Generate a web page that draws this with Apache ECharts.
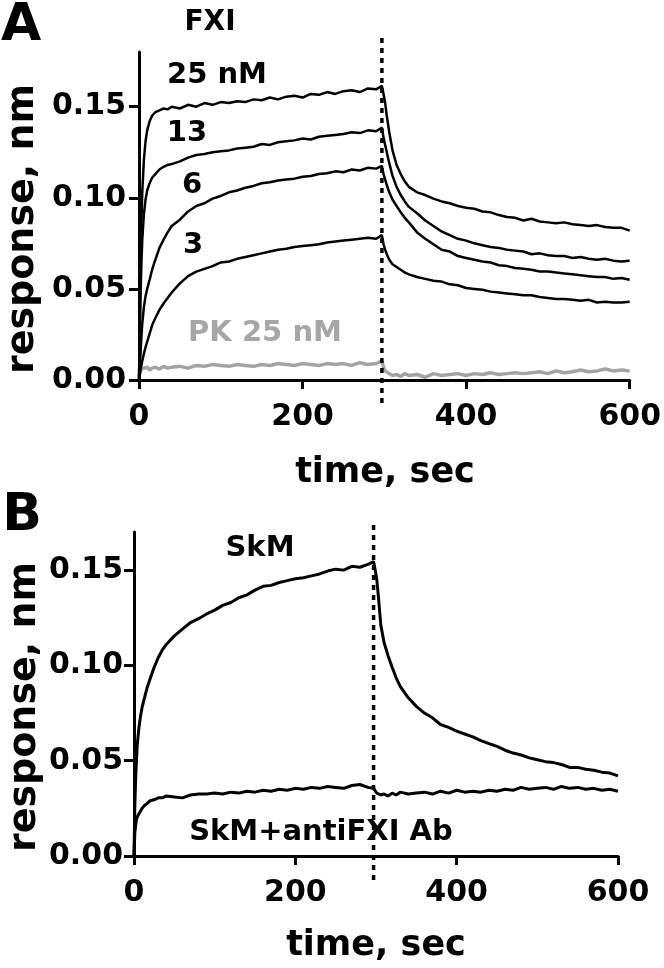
<!DOCTYPE html>
<html><head><meta charset="utf-8">
<script src="https://cdn.jsdelivr.net/npm/echarts@6/dist/echarts.min.js"></script>
<style>html,body{margin:0;padding:0;background:#fff}#c{width:664px;height:968px}</style>
</head><body><div id="c"></div>
<script>
// time points (sec), shared by both panels
const timeSec = [0,1,2,3,4,6,8,10,13,16,20,25,30,35,40,
 50,60,70,80,90,100,110,120,130,140,150,160,170,180,190,200,210,220,230,240,250,260,270,280,290,
 297,
 299,301,303,306,310,315,320,325,330,
 340,350,360,370,380,390,400,410,420,430,440,450,460,470,480,490,500,510,520,530,540,550,560,570,580,590,600];

// Panel A: FXI binding
const fxi25 = [0,0.035,0.065,0.088,0.103,0.121,0.131,0.137,0.142,0.145,0.147,0.148,0.149,0.1485,0.150,
 0.149,0.151,0.150,0.152,0.151,0.1525,0.152,0.153,0.1525,0.154,0.1535,0.155,0.154,0.1555,0.156,0.155,0.157,0.1565,0.158,0.157,0.1585,0.159,0.158,0.160,0.1595,
 0.1615,
 0.157,0.152,0.145,0.136,0.126,0.118,0.113,0.109,0.106,
 0.103,0.1015,0.0995,0.098,0.097,0.0955,0.0945,0.094,0.0925,0.092,0.0905,0.0895,0.089,0.0875,0.0885,0.087,0.0865,0.086,0.0865,0.0855,0.085,0.0845,0.085,0.084,0.0835,0.0835,0.082];
const fxi13 = [0,0.025,0.048,0.065,0.077,0.091,0.099,0.104,0.108,0.111,0.113,0.1155,0.117,0.118,0.1185,
 0.120,0.122,0.1235,0.124,0.125,0.1255,0.126,0.127,0.1275,0.128,0.1295,0.129,0.1305,0.131,0.1315,0.1325,0.132,0.1335,0.134,0.1345,0.135,0.136,0.1355,0.137,0.1365,
 0.1385,
 0.133,0.129,0.125,0.119,0.112,0.106,0.1015,0.098,0.095,
 0.0915,0.0875,0.0845,0.0815,0.0795,0.0775,0.0765,0.075,0.074,0.073,0.0725,0.0715,0.071,0.0705,0.069,0.0695,0.0685,0.068,0.068,0.067,0.0675,0.0665,0.066,0.0665,0.0655,0.065,0.0655];
const fxi6 = [0,0.008,0.016,0.024,0.031,0.040,0.046,0.050,0.055,0.0605,0.066,0.0725,0.077,0.081,0.0845,
 0.088,0.0925,0.0955,0.097,0.0995,0.101,0.103,0.104,0.1055,0.1065,0.108,0.1085,0.1095,0.110,0.1105,0.1115,0.112,0.113,0.1135,0.1145,0.114,0.1155,0.115,0.1165,0.116,
 0.1175,
 0.113,0.110,0.107,0.103,0.099,0.0955,0.092,0.089,0.0865,
 0.081,0.0775,0.0745,0.0715,0.0705,0.068,0.067,0.066,0.065,0.0645,0.063,0.0625,0.0615,0.061,0.0605,0.0595,0.0595,0.059,0.0585,0.058,0.0575,0.057,0.0565,0.0565,0.0555,0.056,0.055];
const fxi3 = [0,0.003,0.006,0.008,0.0105,0.0145,0.018,0.021,0.0255,0.030,0.034,0.0385,0.042,0.045,0.048,
 0.053,0.057,0.0595,0.061,0.0625,0.0645,0.065,0.0665,0.0675,0.0685,0.0695,0.0705,0.0715,0.072,0.073,0.0735,0.074,0.0745,0.0755,0.076,0.0765,0.077,0.0775,0.078,0.0775,
 0.0795,
 0.0745,0.0715,0.069,0.066,0.0635,0.062,0.0605,0.059,0.058,
 0.0565,0.0555,0.0545,0.054,0.0525,0.052,0.0505,0.050,0.0495,0.0485,0.048,0.0475,0.047,0.0465,0.0465,0.0455,0.045,0.0445,0.0445,0.044,0.0435,0.044,0.0425,0.043,0.0425,0.0425,0.043];
const pk25 = [0.002,0.004,0.005,0.006,0.0055,0.0065,0.006,0.007,0.0055,0.0065,0.007,0.006,0.0075,0.0065,0.007,
 0.0075,0.0065,0.008,0.0075,0.0085,0.008,0.0075,0.0085,0.008,0.0075,0.0085,0.008,0.009,0.0085,0.008,0.009,0.0085,0.008,0.009,0.0085,0.009,0.008,0.0095,0.0085,0.009,
 0.0105,
 0.007,0.005,0.004,0.0035,0.0025,0.003,0.002,0.0035,0.0025,
 0.003,0.0015,0.0035,0.0025,0.003,0.0035,0.0025,0.0035,0.003,0.004,0.003,0.0035,0.004,0.0035,0.004,0.0045,0.0035,0.005,0.004,0.0045,0.0055,0.0045,0.005,0.006,0.005,0.0055,0.005];

// Panel B: SkM binding
const skm = [0,0.026,0.040,0.050,0.058,0.067,0.073,0.078,0.083,0.088,0.093,0.099,0.104,0.108,0.111,
 0.1155,0.119,0.1225,0.1245,0.127,0.129,0.1315,0.133,0.1355,0.137,0.1395,0.1415,0.142,0.1435,0.1445,0.1455,0.146,0.147,0.148,0.1495,0.1505,0.150,0.152,0.1515,0.153,
 0.1545,
 0.150,0.145,0.136,0.121,0.112,0.105,0.099,0.0935,0.089,
 0.083,0.0785,0.075,0.0725,0.069,0.0675,0.0655,0.064,0.0625,0.0605,0.059,0.0575,0.0555,0.054,0.053,0.0515,0.0505,0.0495,0.049,0.048,0.0465,0.0465,0.0455,0.045,0.044,0.0435,0.042];
const skmAb = [0,0.012,0.016,0.019,0.0205,0.022,0.0235,0.025,0.0265,0.0275,0.029,0.0295,0.0305,0.0305,0.0315,
 0.031,0.0305,0.032,0.0325,0.0325,0.033,0.0325,0.0335,0.033,0.034,0.0335,0.0345,0.034,0.035,0.0345,0.0355,0.035,0.036,0.0355,0.0365,0.036,0.0355,0.037,0.0375,0.036,
 0.0355,
 0.0345,0.033,0.0335,0.032,0.0325,0.0315,0.033,0.032,0.0335,
 0.0325,0.033,0.0335,0.0325,0.034,0.033,0.0345,0.0335,0.034,0.0335,0.0345,0.034,0.035,0.0345,0.036,0.035,0.0355,0.036,0.035,0.0365,0.0355,0.036,0.035,0.0355,0.0345,0.035,0.034];

// axes
const xTicks = [0, 200, 400, 600];
const yTicksA = [0, 0.05, 0.10, 0.15];
const yTicksB = [0, 0.05, 0.10, 0.15];
const yMaxA = 0.18, yMaxB = 0.17;
// dotted buffer-switch line (time, and its y extent in data units)
const switchTime = 297;
const dotSpanA = [-0.0126, 0.188];
const dotSpanB = [-0.0126, 0.174];

const FONT = '"DejaVu Sans", "Liberation Sans", Arial, sans-serif';
const pairs = arr => timeSec.map((t, i) => [t, arr[i]]);

function xAxis(gi) {
  return {
    gridIndex: gi, type: 'value', min: 0, max: 600, interval: 200,
    axisLine: { lineStyle: { color: '#000', width: 3 } },
    axisTick: { length: 9, lineStyle: { color: '#000', width: 3 }, customValues: xTicks },
    axisLabel: { customValues: xTicks, color: '#000', fontFamily: FONT, fontWeight: 'bold', fontSize: 30, margin: 22 },
    splitLine: { show: false }
  };
}
function yAxis(gi, max, ticks, margin) {
  return {
    gridIndex: gi, type: 'value', min: 0, max: max,
    axisLine: { show: true, lineStyle: { color: '#000', width: 3 } },
    axisTick: { show: true, length: 10, lineStyle: { color: '#000', width: 3 }, customValues: ticks },
    axisLabel: { customValues: ticks, color: '#000', fontFamily: FONT, fontWeight: 'bold', fontSize: 30, margin: margin,
      formatter: v => v.toFixed(2) },
    splitLine: { show: false }
  };
}
function curve(xi, arr, color, width) {
  return { type: 'line', xAxisIndex: xi, yAxisIndex: xi, data: pairs(arr), showSymbol: false, symbol: 'none',
    lineStyle: { color: color, width: width }, animation: false, silent: true };
}
function dotted(xi, span) {
  return { type: 'line', xAxisIndex: xi, yAxisIndex: xi, clip: false, showSymbol: false, symbol: 'none',
    data: [[switchTime, span[0]], [switchTime, span[1]]],
    lineStyle: { color: '#000', width: 3.5, type: [5, 5], cap: 'butt' }, animation: false, silent: true, z: 5 };
}
function txt(text, x, y, size, color, rot) {
  return { type: 'text', x: x, y: y, rotation: rot || 0, z: 100,
    style: { text: text, fill: color || '#000', font: 'bold ' + size + 'px ' + FONT, align: 'center', verticalAlign: 'middle' } };
}

const chart = echarts.init(document.getElementById('c'), null, { renderer: 'canvas' });
chart.setOption({
  backgroundColor: '#fff',
  animation: false,
  grid: [
    { left: 139, top: 52, width: 493, height: 328 },
    { left: 134, top: 532, width: 484, height: 324 }
  ],
  xAxis: [xAxis(0), xAxis(1)],
  yAxis: [yAxis(0, yMaxA, yTicksA, 13), yAxis(1, yMaxB, yTicksB, 11)],
  series: [
    curve(0, pk25, '#a3a3a3', 3.5),
    curve(0, fxi3, '#000', 2.5),
    curve(0, fxi6, '#000', 2.5),
    curve(0, fxi13, '#000', 2.5),
    curve(0, fxi25, '#000', 2.5),
    dotted(0, dotSpanA),
    curve(1, skmAb, '#000', 3),
    curve(1, skm, '#000', 3),
    dotted(1, dotSpanB)
  ],
  graphic: [
    txt('A', 21, 26, 52),
    txt('FXI', 210, 23, 28),
    txt('25 nM', 217, 75, 29),
    txt('13', 187, 133, 29),
    txt('6', 192, 185, 29),
    txt('3', 193, 245, 29),
    txt('PK 25 nM', 265, 333, 29, '#a6a6a6'),
    txt('response, nm', 23, 229, 38, '#000', Math.PI / 2),
    txt('time, sec', 385, 473, 35),
    txt('B', 22, 516, 52),
    txt('SkM', 260, 548, 29),
    txt('SkM+antiFXI Ab', 321, 832, 29),
    txt('response, nm', 25, 707, 38, '#000', Math.PI / 2),
    txt('time, sec', 376, 946, 35)
  ]
});
</script></body></html>
